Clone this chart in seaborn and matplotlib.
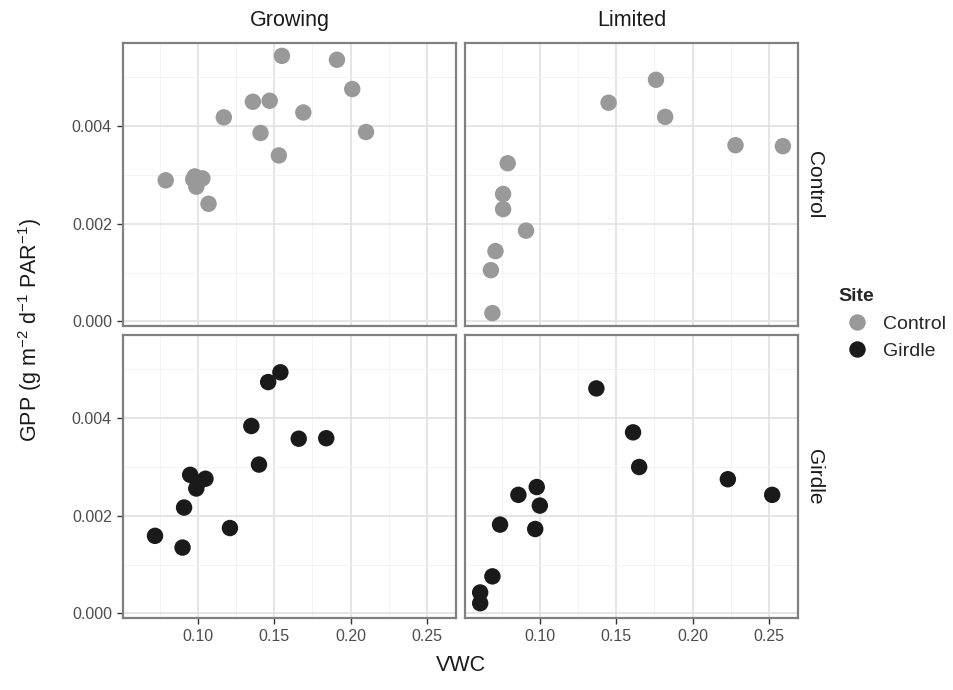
import numpy as np
import pandas as pd
import matplotlib
matplotlib.use("Agg")
import matplotlib.pyplot as plt
import seaborn as sns
from matplotlib.ticker import MultipleLocator, FormatStrFormatter

# values
control_growing_vwc = [0.079, 0.097, 0.099, 0.103, 0.098, 0.107, 0.117, 0.136, 0.147,
                       0.141, 0.153, 0.155, 0.169, 0.191, 0.201, 0.210]
control_growing_gpp = [0.00289, 0.00291, 0.00276, 0.00293, 0.00297, 0.00241, 0.00418, 0.00450, 0.00452,
                       0.00386, 0.00340, 0.00544, 0.00428, 0.00536, 0.00476, 0.00388]

control_limited_vwc = [0.069, 0.068, 0.071, 0.091, 0.076, 0.076, 0.079, 0.145, 0.176, 0.182, 0.228, 0.259]
control_limited_gpp = [0.00017, 0.00105, 0.00144, 0.00186, 0.00230, 0.00261, 0.00324, 0.00448, 0.00495,
                       0.00419, 0.00361, 0.00359]

girdle_growing_vwc = [0.072, 0.090, 0.091, 0.121, 0.095, 0.100, 0.099, 0.105, 0.140, 0.135, 0.146,
                      0.154, 0.166, 0.184]
girdle_growing_gpp = [0.00159, 0.00135, 0.00217, 0.00175, 0.00284, 0.00268, 0.00256, 0.00276, 0.00305,
                      0.00384, 0.00474, 0.00494, 0.00358, 0.00359]

girdle_limited_vwc = [0.061, 0.061, 0.069, 0.074, 0.097, 0.086, 0.098, 0.100, 0.137, 0.161, 0.165,
                      0.223, 0.252]
girdle_limited_gpp = [0.00021, 0.00043, 0.00076, 0.00182, 0.00173, 0.00243, 0.00259, 0.00221, 0.00461,
                      0.00371, 0.00300, 0.00275, 0.00243]

periods = ["Growing", "Limited"]
sites = ["Control", "Girdle"]
site_colors = {"Control": "#999999", "Girdle": "#1a1a1a"}

x_ticks = [0.10, 0.15, 0.20, 0.25]
y_ticks = [0.000, 0.002, 0.004]


def panel(site, period, vwc, gpp):
    return pd.DataFrame({"Site": site, "Period": period, "VWC": vwc, "GPP": gpp})


df = pd.concat([
    panel("Control", "Growing", control_growing_vwc, control_growing_gpp),
    panel("Control", "Limited", control_limited_vwc, control_limited_gpp),
    panel("Girdle", "Growing", girdle_growing_vwc, girdle_growing_gpp),
    panel("Girdle", "Limited", girdle_limited_vwc, girdle_limited_gpp),
], ignore_index=True)

sns.set_theme(style="white")
plt.rcParams["font.family"] = ["Liberation Sans", "DejaVu Sans"]
plt.rcParams["mathtext.fontset"] = "custom"
plt.rcParams["mathtext.rm"] = "Liberation Sans"
plt.rcParams["mathtext.it"] = "Liberation Sans:italic"

g = sns.relplot(data=df, x="VWC", y="GPP", hue="Site", row="Site", col="Period",
                hue_order=sites, row_order=sites, col_order=periods,
                palette=site_colors, s=140, linewidth=0,
                facet_kws=dict(margin_titles=True, despine=False))

fig = g.figure
fig.set_size_inches(9.54, 6.9)
fig.subplots_adjust(left=0.129, right=0.8365, top=0.9377, bottom=0.1043,
                    wspace=0.027, hspace=0.032)

# ggplot-like expanded limits
xr = df["VWC"].max() - df["VWC"].min()
yr = df["GPP"].max() - df["GPP"].min()
xlim = (df["VWC"].min() - 0.05 * xr, df["VWC"].max() + 0.05 * xr)
ylim = (df["GPP"].min() - 0.05 * yr, df["GPP"].max() + 0.05 * yr)

g.set_titles(col_template="{col_name}", row_template="{row_name}", size=15, color="#1a1a1a")
g.set_axis_labels("", "")

for (i, j), ax in np.ndenumerate(g.axes):
    ax.set_xlim(xlim)
    ax.set_ylim(ylim)
    ax.set_xticks(x_ticks)
    ax.set_yticks(y_ticks)
    ax.xaxis.set_minor_locator(MultipleLocator(0.025))
    ax.yaxis.set_minor_locator(MultipleLocator(0.001))
    ax.xaxis.set_major_formatter(FormatStrFormatter("%.2f"))
    ax.yaxis.set_major_formatter(FormatStrFormatter("%.3f"))
    ax.grid(which="major", color="#e3e3e3", linewidth=1.3)
    ax.grid(which="minor", color="#f3f3f3", linewidth=0.7)
    ax.set_axisbelow(True)
    for sp in ax.spines.values():
        sp.set_visible(True)
        sp.set_color("#808080")
        sp.set_linewidth(1.6)
    ax.tick_params(which="minor", length=0)
    ax.tick_params(which="major", length=4, width=1, color="#333333",
                   labelsize=11.5, labelcolor="#4d4d4d", pad=4,
                   bottom=(i == 1), left=(j == 0),
                   labelbottom=(i == 1), labelleft=(j == 0))
    if i == 0:
        ax.set_title(periods[j], pad=12, fontsize=15.5, color="#1a1a1a")

fig.text(0.031, 0.522, "GPP (g m$^{-2}$ d$^{-1}$ PAR$^{-1}$)", rotation=90,
         ha="center", va="center", fontsize=15.5, color="#1a1a1a")
fig.text(0.483, 0.036, "VWC", ha="center", va="center", fontsize=15.5, color="#1a1a1a")

sns.move_legend(g, "center left", bbox_to_anchor=(0.86, 0.53), frameon=False,
                title="Site", fontsize=14, title_fontsize=14, handletextpad=0.3)
leg = g._legend
leg.get_title().set_fontweight("bold")
leg._legend_box.align = "left"

fig.savefig("out.png", dpi=100)
